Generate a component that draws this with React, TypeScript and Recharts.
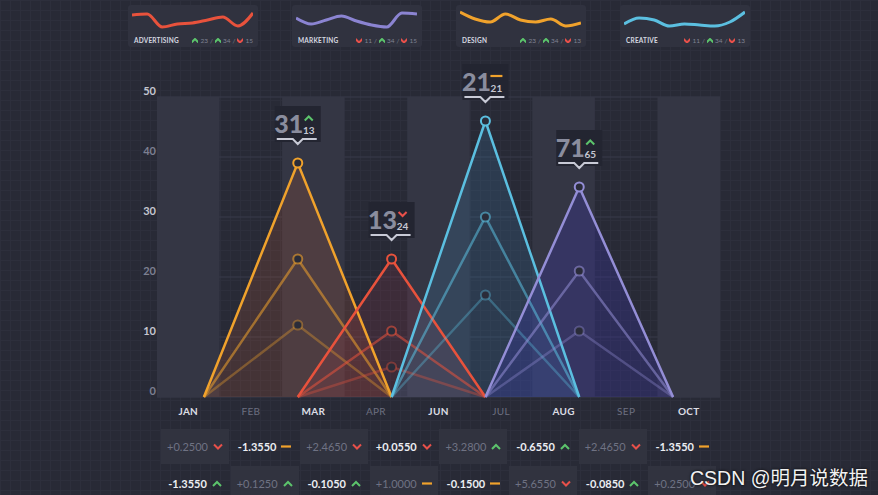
import React from 'react';
import {
  ComposedChart,
  LineChart,
  Line,
  Area,
  XAxis,
  YAxis,
  CartesianGrid,
  ReferenceArea,
  ReferenceDot,
} from 'recharts';

// month columns (there is no MAY in the original)
const months = ['JAN', 'FEB', 'MAR', 'APR', 'JUN', 'JUL', 'AUG', 'SEP', 'OCT'];
const yTicks = [0, 10, 20, 30, 40, 50];
// x positions of the triangle corners, in column units
const points = [0.75, 2.25, 3.75, 5.25, 6.75, 8.25];

const designMain = [0, 39, 0, null, null, null];
const designMid = [0, 23, 0, null, null, null];
const designLow = [0, 12, 0, null, null, null];
const adMain = [null, 0, 23, 0, null, null];
const adMid = [null, 0, 11, 0, null, null];
const adLow = [null, 0, 5, 0, null, null];
const creativeMain = [null, null, 0, 46, 0, null];
const creativeMid = [null, null, 0, 30, 0, null];
const creativeLow = [null, null, 0, 17, 0, null];
const marketingMain = [null, null, null, 0, 35, 0];
const marketingMid = [null, null, null, 0, 21, 0];
const marketingLow = [null, null, null, 0, 11, 0];

// badges above the peaks
const badgeBig = ['31', '13', '21', '71'];
const badgeSmall = ['13', '24', '21', '65'];
const badgeTrend = ['up', 'down', 'flat', 'up'];

// legend cards
const cardNames = ['ADVERTISING', 'MARKETING', 'DESIGN', 'CREATIVE'];
const cardColors = ['#e8523c', '#8b84d2', '#f0a22c', '#5bbfe0'];
const adSpark = [15, 16, 3, 6, 7, 10, 13, 4, 17];
const marketingSpark = [12, 6, 10, 14, 9, 5, 3, 17, 16];
const designSpark = [18, 11, 8, 16, 10, 8, 11, 4, 7];
const creativeSpark = [6, 12, 10, 4, 6, 5, 4, 8, 18];
const cardStats = [[23, 34, 15], [11, 34, 15], [23, 34, 13], [11, 34, 13]];
const cardTrends = [
  ['up', 'up', 'down'],
  ['down', 'up', 'down'],
  ['up', 'up', 'down'],
  ['down', 'up', 'down'],
];

// table under the chart
const row1 = ['+0.2500', '-1.3550', '+2.4650', '+0.0550', '+3.2800', '-0.6550', '+2.4650', '-1.3550'];
const row1Trend = ['down', 'flat', 'down', 'down', 'up', 'up', 'down', 'flat'];
const row2 = ['-1.3550', '+0.1250', '-0.1050', '+1.0000', '-0.1500', '+5.6550', '-0.0850', '+0.2500'];
const row2Trend = ['up', 'up', 'up', 'flat', 'flat', 'down', 'up', 'down'];

const GREEN = '#5cc46c';
const RED = '#e8504a';
const ORANGE = '#f0a22c';
const FONT = 'Lato, "Open Sans", sans-serif';

const series = [
  { key: 'design', color: '#f0a22c', fill: '#c8603a', fillOpacity: 0.18, main: designMain, mid: designMid, low: designLow, badge: 0 },
  { key: 'ad', color: '#e8523c', fill: '#b03a4a', fillOpacity: 0.16, main: adMain, mid: adMid, low: adLow, badge: 1 },
  { key: 'creative', color: '#5bbfe0', fill: '#3a7aa8', fillOpacity: 0.22, main: creativeMain, mid: creativeMid, low: creativeLow, badge: 2 },
  { key: 'marketing', color: '#948ed6', fill: '#3a36a8', fillOpacity: 0.3, main: marketingMain, mid: marketingMid, low: marketingLow, badge: 3 },
];

const chartData = points.map((x, i) => {
  const row: { [k: string]: number | null } = { x };
  series.forEach((s) => {
    row[s.key + 'Main'] = s.main[i];
    row[s.key + 'Mid'] = s.mid[i];
    row[s.key + 'Low'] = s.low[i];
  });
  return row;
});

function Trend({ kind, x, y }: { kind: string; x: number; y: number }) {
  if (kind === 'up')
    return <polyline points={`${x - 4},${y + 2.5} ${x},${y - 1.5} ${x + 4},${y + 2.5}`} fill="none" stroke={GREEN} strokeWidth={2} />;
  if (kind === 'down')
    return <polyline points={`${x - 4},${y - 2} ${x},${y + 2} ${x + 4},${y - 2}`} fill="none" stroke={RED} strokeWidth={2} />;
  return <line x1={x - 6} x2={x + 6} y1={y} y2={y} stroke={ORANGE} strokeWidth={2.2} />;
}

function TrendIcon({ kind }: { kind: string }) {
  return (
    <svg width={10} height={7} style={{ display: 'block' }}>
      <Trend kind={kind} x={5} y={3.5} />
    </svg>
  );
}

const peakDot = (color: string, opacity: number, r: number) => (props: any) => {
  const { cx, cy, value, index } = props;
  if (value == null || value === 0 || cx == null || cy == null) return <g key={index} />;
  return (
    <circle key={index} cx={cx} cy={cy} r={r} fill="#2a2c39" stroke={color} strokeOpacity={opacity} strokeWidth={2} />
  );
};

const badgeShape = (i: number) => (props: any) => {
  const { cx, cy } = props;
  if (cx == null) return <g />;
  return (
    <g>
      <rect x={cx - 23} y={cy - 57} width={46} height={36} fill="#232531" />
      <text x={cx - 9} y={cy - 30} textAnchor="middle" fontSize={25} fontWeight={900} fill="#8a8d9e" fontFamily={FONT}>
        {badgeBig[i]}
      </text>
      <Trend kind={badgeTrend[i]} x={cx + 11} y={cy - 45} />
      <text x={cx + 11} y={cy - 29} textAnchor="middle" fontSize={10} fontWeight={700} fill="#c5c7d2" fontFamily={FONT}>
        {badgeSmall[i]}
      </text>
      <path
        d={`M${cx - 21},${cy - 24} H${cx - 5} L${cx},${cy - 19} L${cx + 5},${cy - 24} H${cx + 19}`}
        fill="none"
        stroke="#c8cad6"
        strokeWidth={2}
      />
    </g>
  );
};

function XTick(props: any) {
  const { x, y, payload } = props;
  const i = Math.floor(payload.value);
  const strong = i % 2 === 0;
  return (
    <text x={x} y={y + 10} textAnchor="middle" fontSize={10} fontWeight={strong ? 700 : 400}
      fill={strong ? '#dcdde4' : '#6c6f80'} fontFamily={FONT} letterSpacing={0.3}>
      {months[i]}
    </text>
  );
}

function YTick(props: any) {
  const { y, payload } = props;
  const bright = (payload.value / 10) % 2 === 1;
  return (
    <text x={156} y={y - 2} textAnchor="end" fontSize={11} fontWeight={700}
      fill={bright ? '#c4c6d0' : '#7c7f90'} fontFamily={FONT}>
      {payload.value}
    </text>
  );
}

const sparks = [adSpark, marketingSpark, designSpark, creativeSpark];

function Card({ i }: { i: number }) {
  const left = 128 + i * 164;
  const data = sparks[i].map((v, k) => ({ k, v }));
  return (
    <>
      <div style={{ position: 'absolute', left, top: 5, width: 130, height: 42, background: '#30323f', borderRadius: 3 }} />
      <div style={{ position: 'absolute', left: left + 4, top: 0 }}>
        <LineChart width={121} height={30} data={data} margin={{ top: 0, right: 0, bottom: 0, left: 0 }}>
          <XAxis dataKey="k" hide />
          <YAxis hide domain={[0, 30]} />
          <Line type="monotone" dataKey="v" stroke={cardColors[i]} strokeWidth={3} dot={false} isAnimationActive={false} />
        </LineChart>
      </div>
      <div style={{ position: 'absolute', left: left + 6, top: 37, fontSize: 6.5, fontWeight: 700, color: '#d6d8e0', fontFamily: FONT, letterSpacing: 0.2 }}>
        {cardNames[i]}
      </div>
      <div style={{ position: 'absolute', left: left + 60, width: 65, top: 37, display: 'flex', justifyContent: 'flex-end', alignItems: 'center', gap: 2, fontSize: 6.5, color: '#7f8293', fontFamily: FONT }}>
        {cardStats[i].map((v, k) => (
          <React.Fragment key={k}>
            {k > 0 && <span>/</span>}
            <svg width={6} height={5}>
              <Trend kind={cardTrends[i][k]} x={3} y={2.5} />
            </svg>
            <span>{v}</span>
          </React.Fragment>
        ))}
      </div>
    </>
  );
}

function TableRow({ values, trends, r }: { values: string[]; trends: string[]; r: number }) {
  return (
    <>
      {values.map((v, i) => {
        const shaded = (i + r) % 2 === 0;
        return (
          <div key={i} style={{
            position: 'absolute', left: 161 + i * 69.6, top: r === 0 ? 429 : 466, width: 68, height: 35,
            background: shaded ? '#31333f' : 'transparent', display: 'flex', alignItems: 'center',
            justifyContent: 'center', gap: 5, fontFamily: FONT, fontSize: 11,
            fontWeight: shaded ? 400 : 700, color: shaded ? '#6f7283' : '#eceef3',
          }}>
            <span>{v}</span>
            <TrendIcon kind={trends[i]} />
          </div>
        );
      })}
    </>
  );
}

export default function App() {
  return (
    <div style={{
      position: 'absolute', left: 0, top: 0, width: 878, height: 495, overflow: 'hidden',
      backgroundColor: '#282a36',
      backgroundImage: 'linear-gradient(#2d2f3c 1px, transparent 1px), linear-gradient(90deg, #2d2f3c 1px, transparent 1px)',
      backgroundSize: '10px 10px',
    }}>
      <div style={{ position: 'absolute', left: 0, top: 0 }}>
        <ComposedChart width={878} height={495} data={chartData} margin={{ top: 97, right: 158, bottom: 68, left: 137 }}>
          {months.map((m, i) =>
            i % 2 === 0 ? (
              <ReferenceArea key={m} x1={i} x2={i + 1} y1={0} y2={50} fill="#343644" fillOpacity={1} stroke="none" />
            ) : null
          )}
          <CartesianGrid vertical={false} stroke="#393b4a" />
          <XAxis type="number" dataKey="x" domain={[0, 9]} ticks={months.map((_, i) => i + 0.5)} interval={0}
            axisLine={false} tickLine={false} tick={<XTick />} height={30} />
          <YAxis type="number" domain={[0, 50]} ticks={yTicks} axisLine={false} tickLine={false} tick={<YTick />} width={20} />
          {series.map((s) => (
            <Area key={s.key + 'A'} type="linear" dataKey={s.key + 'Main'} stroke="none" fill={s.fill}
              fillOpacity={s.fillOpacity} isAnimationActive={false} />
          ))}
          {series.map((s) => [
            <Line key={s.key + 'L'} type="linear" dataKey={s.key + 'Low'} stroke={s.color} strokeOpacity={0.35}
              strokeWidth={2.5} dot={peakDot(s.color, 0.4, 4.5)} isAnimationActive={false} />,
            <Line key={s.key + 'M'} type="linear" dataKey={s.key + 'Mid'} stroke={s.color} strokeOpacity={0.55}
              strokeWidth={2.5} dot={peakDot(s.color, 0.6, 4.5)} isAnimationActive={false} />,
            <Line key={s.key + 'T'} type="linear" dataKey={s.key + 'Main'} stroke={s.color}
              strokeWidth={2.5} dot={peakDot(s.color, 1, 4.5)} isAnimationActive={false} />,
          ])}
          {series.map((s, i) => (
            <ReferenceDot key={s.key + 'B'} x={points[i + 1]} y={Math.max(...(s.main.filter((v) => v != null) as number[]))}
              r={0} shape={badgeShape(s.badge)} />
          ))}
        </ComposedChart>
      </div>
      {cardNames.map((_, i) => <Card key={i} i={i} />)}
      <TableRow values={row1} trends={row1Trend} r={0} />
      <TableRow values={row2} trends={row2Trend} r={1} />
      <div style={{
        position: 'absolute', left: 690, top: 462, fontSize: 19.5, color: '#f2f2f2', whiteSpace: 'nowrap',
        fontFamily: '"Liberation Sans", "Noto Sans CJK SC", sans-serif', textShadow: '0 0 3px #000',
      }}>
        CSDN @明月说数据
      </div>
    </div>
  );
}
